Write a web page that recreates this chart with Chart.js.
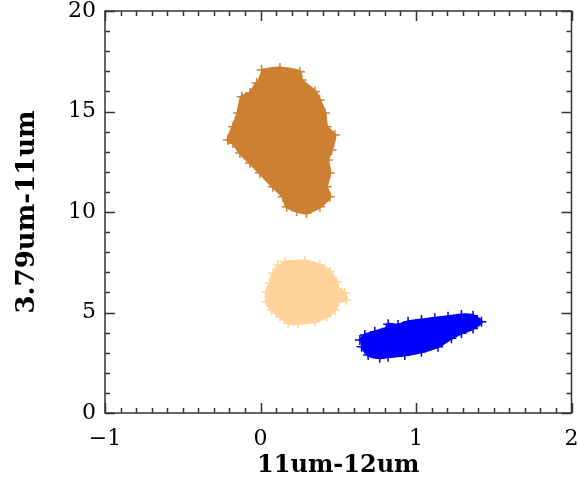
<!DOCTYPE html>
<html>
<head>
<meta charset="utf-8">
<script src="https://cdn.jsdelivr.net/npm/chart.js@4.4.0/dist/chart.umd.min.js"></script>
<style>
  html, body { margin: 0; padding: 0; background: #fff; }
  #wrap { width: 578px; height: 480px; }
</style>
</head>
<body>
<div id="wrap"><canvas id="scatterChart"></canvas></div>
<script>
// outline of each cloud of points
var brownX = [0.007, 0.125, 0.253, 0.264, 0.35, 0.38, 0.414, 0.425, 0.478, 0.457, 0.433, 0.446, 0.425, 0.446, 0.382, 0.296, 0.232, 0.168, 0.144, 0.08, -0.004, -0.068, -0.132, -0.177, -0.21, -0.177, -0.145, -0.121, -0.068, -0.025];
var brownY = [17.06, 17.16, 16.98, 16.57, 15.99, 15.57, 14.93, 14.24, 13.83, 13.08, 12.59, 11.94, 11.26, 10.76, 10.26, 9.95, 10.05, 10.26, 10.76, 11.26, 11.94, 12.44, 12.94, 13.43, 13.58, 14.24, 14.93, 15.74, 15.92, 16.42];

var peachX = [0.157, 0.285, 0.382, 0.446, 0.489, 0.499, 0.542, 0.553, 0.499, 0.478, 0.425, 0.35, 0.242, 0.178, 0.125, 0.071, 0.039, 0.039, 0.06, 0.082, 0.114];
var peachY = [7.53, 7.56, 7.36, 7.03, 6.53, 6.2, 5.97, 5.62, 5.54, 5.12, 4.79, 4.54, 4.46, 4.46, 4.79, 5.12, 5.54, 6.03, 6.45, 6.95, 7.36];

var blueX = [0.639, 0.671, 0.735, 0.81, 0.821, 0.885, 0.949, 1.035, 1.121, 1.206, 1.292, 1.367, 1.421, 1.367, 1.292, 1.228, 1.142, 1.035, 0.928, 0.821, 0.767, 0.692, 0.65];
var blueY = [3.63, 3.88, 4.04, 4.21, 4.41, 4.38, 4.54, 4.63, 4.71, 4.79, 4.88, 4.84, 4.54, 4.21, 3.97, 3.72, 3.3, 3.05, 2.89, 2.8, 2.75, 2.89, 3.3];

var xRange = [-1, 2];
var yRange = [0, 20];
var xMinorStep = 0.1, xMajorStep = 1;
var yMinorStep = 1, yMajorStep = 5;

var brownColor = "#cd7f32";
var peachColor = "#ffd39b";
var blueColor = "#0000ff";

function toPoints(xs, ys) {
  var pts = [];
  for (var i = 0; i < xs.length; i++) pts.push({ x: xs[i], y: ys[i] });
  return pts;
}

function cloud(xs, ys, color) {
  return {
    data: toPoints(xs, ys),
    showLine: true,
    fill: "shape",
    backgroundColor: color,
    borderColor: color,
    borderWidth: 3,
    pointStyle: "cross",
    pointRadius: 5,
    pointBorderWidth: 1.5,
    pointBorderColor: color,
    tension: 0.2
  };
}

// IDL style frame with inward ticks on all four sides
var frameTicks = {
  id: "frameTicks",
  afterDraw: function (chart) {
    var ctx = chart.ctx, a = chart.chartArea;
    var xs = chart.scales.x, ys = chart.scales.y;
    ctx.save();
    ctx.strokeStyle = "#333";
    ctx.lineWidth = 1.5;
    ctx.strokeRect(a.left, a.top, a.right - a.left, a.bottom - a.top);
    ctx.beginPath();
    var n = Math.round((xRange[1] - xRange[0]) / xMinorStep);
    for (var i = 0; i <= n; i++) {
      var v = xRange[0] + i * xMinorStep;
      var px = Math.round(xs.getPixelForValue(v)) + 0.5;
      var len = (i % Math.round(xMajorStep / xMinorStep) === 0) ? 10 : 5;
      ctx.moveTo(px, a.bottom); ctx.lineTo(px, a.bottom - len);
      ctx.moveTo(px, a.top); ctx.lineTo(px, a.top + len);
    }
    n = Math.round((yRange[1] - yRange[0]) / yMinorStep);
    for (var j = 0; j <= n; j++) {
      var w = yRange[0] + j * yMinorStep;
      var py = Math.round(ys.getPixelForValue(w)) + 0.5;
      var l = (j % Math.round(yMajorStep / yMinorStep) === 0) ? 10 : 5;
      ctx.moveTo(a.left, py); ctx.lineTo(a.left + l, py);
      ctx.moveTo(a.right, py); ctx.lineTo(a.right - l, py);
    }
    ctx.stroke();
    ctx.restore();
  }
};

var fontFamily = "'DejaVu Serif', serif";

document.addEventListener("DOMContentLoaded", function () {
  var ctx = document.getElementById("scatterChart").getContext("2d");

  new Chart(ctx, {
    type: "scatter",
    data: {
      datasets: [
        cloud(brownX, brownY, brownColor),
        cloud(peachX, peachY, peachColor),
        cloud(blueX, blueY, blueColor)
      ]
    },
    options: {
      responsive: true,
      maintainAspectRatio: false,
      animation: false,
      layout: { padding: { top: 11, right: 6, left: 0, bottom: 0 } },
      plugins: {
        legend: { display: false },
        tooltip: { enabled: false }
      },
      scales: {
        x: {
          type: "linear",
          min: xRange[0],
          max: xRange[1],
          grid: { display: false, drawTicks: false },
          border: { display: false },
          ticks: {
            stepSize: xMajorStep,
            padding: 13,
            color: "#000",
            font: { family: fontFamily, size: 22 },
            callback: function (v) { return v < 0 ? "\u2212" + Math.abs(v) : String(v); }
          },
          title: {
            display: true,
            text: "11um-12um",
            color: "#000",
            font: { family: fontFamily, size: 24, weight: "bold" },
            padding: { top: 0, bottom: 0 }
          },
          afterFit: function (scale) {
            scale.height = 67;
            scale.paddingLeft = 0;
            scale.paddingRight = 0;
          }
        },
        y: {
          type: "linear",
          min: yRange[0],
          max: yRange[1],
          grid: { display: false, drawTicks: false },
          border: { display: false },
          ticks: {
            stepSize: yMajorStep,
            padding: 9,
            color: "#000",
            font: { family: fontFamily, size: 22 }
          },
          title: {
            display: true,
            text: "3.79um-11um",
            color: "#000",
            font: { family: fontFamily, size: 26, weight: "bold" },
            padding: { top: 12, bottom: 0 }
          },
          afterFit: function (scale) {
            scale.width = 105;
            scale.paddingTop = 0;
            scale.paddingBottom = 0;
          }
        }
      }
    },
    plugins: [frameTicks]
  });
});
</script>
</body>
</html>
